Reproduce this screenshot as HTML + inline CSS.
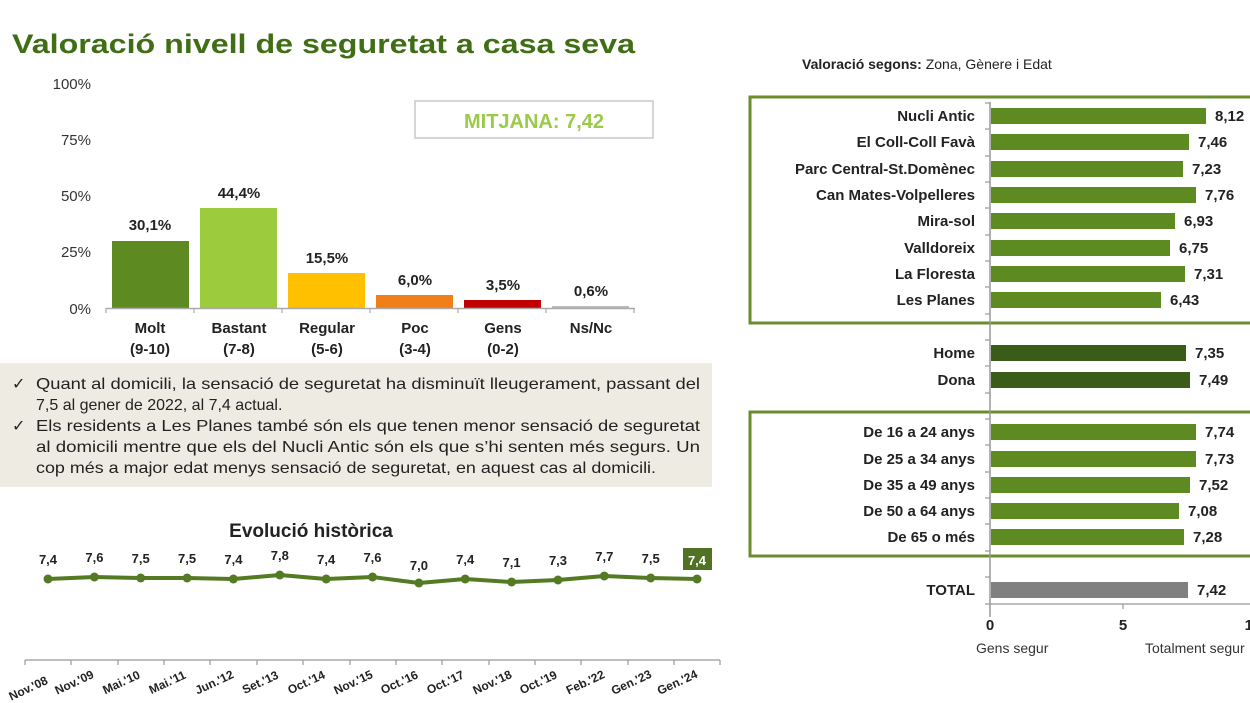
<!DOCTYPE html>
<html><head><meta charset="utf-8">
<style>html,body{margin:0;padding:0;background:#fff;}svg{display:block;}</style></head>
<body>
<svg width="1250" height="703" viewBox="0 0 1250 703" xmlns="http://www.w3.org/2000/svg" font-family="Liberation Sans, Arial, sans-serif">
<rect width="1250" height="703" fill="#fff"/>
<!-- Title -->
<text x="12" y="53" font-size="27" font-weight="bold" fill="#3f6e14" textLength="623" lengthAdjust="spacingAndGlyphs">Valoració nivell de seguretat a casa seva</text>

<!-- Y axis labels -->
<g font-size="15" fill="#333" text-anchor="end">
<text x="91" y="89">100%</text>
<text x="91" y="145">75%</text>
<text x="91" y="201">50%</text>
<text x="91" y="257">25%</text>
<text x="91" y="314">0%</text>
</g>
<!-- MITJANA box -->
<rect x="415" y="101" width="238" height="37" fill="#fff" stroke="#c8c8c8" stroke-width="1.5"/>
<text x="534" y="128" font-size="20" font-weight="bold" fill="#9bc94a" text-anchor="middle">MITJANA: 7,42</text>

<!-- Bars -->
<rect x="112" y="241" width="77" height="67" fill="#5e8a22"/>
<rect x="200" y="208" width="77" height="100" fill="#9ccb3d"/>
<rect x="288" y="273" width="77" height="35" fill="#ffc000"/>
<rect x="376" y="295" width="77" height="13" fill="#f07f1a"/>
<rect x="464" y="300" width="77" height="8" fill="#c00000"/>
<rect x="552" y="306" width="77" height="2" fill="#bbb"/>
<line x1="106" y1="308.5" x2="635" y2="308.5" stroke="#aaa" stroke-width="1.5"/>
<g stroke="#aaa" stroke-width="1.2">
<line x1="106" y1="308" x2="106" y2="313"/><line x1="194" y1="308" x2="194" y2="313"/><line x1="282" y1="308" x2="282" y2="313"/><line x1="370" y1="308" x2="370" y2="313"/><line x1="458" y1="308" x2="458" y2="313"/><line x1="546" y1="308" x2="546" y2="313"/><line x1="634" y1="308" x2="634" y2="313"/>
</g>
<g font-size="15" font-weight="bold" fill="#222" text-anchor="middle">
<text x="150" y="230">30,1%</text>
<text x="239" y="198">44,4%</text>
<text x="327" y="263">15,5%</text>
<text x="415" y="285">6,0%</text>
<text x="503" y="290">3,5%</text>
<text x="591" y="296">0,6%</text>
<text x="150" y="333">Molt</text><text x="150" y="354">(9-10)</text>
<text x="239" y="333">Bastant</text><text x="239" y="354">(7-8)</text>
<text x="327" y="333">Regular</text><text x="327" y="354">(5-6)</text>
<text x="415" y="333">Poc</text><text x="415" y="354">(3-4)</text>
<text x="503" y="333">Gens</text><text x="503" y="354">(0-2)</text>
<text x="591" y="333">Ns/Nc</text>
</g>

<!-- Text box -->
<rect x="0" y="363" width="712" height="124" fill="#edebe2"/>
<g font-size="16" fill="#222">
<text x="12" y="389">✓</text>
<text x="36" y="389" textLength="664" lengthAdjust="spacingAndGlyphs">Quant al domicili, la sensació de seguretat ha disminuït lleugerament, passant del</text>
<text x="36" y="410">7,5 al gener de 2022, al 7,4 actual.</text>
<text x="12" y="431">✓</text>
<text x="36" y="431" textLength="664" lengthAdjust="spacingAndGlyphs">Els residents a Les Planes també són els que tenen menor sensació de seguretat</text>
<text x="36" y="452" textLength="664" lengthAdjust="spacingAndGlyphs">al domicili mentre que els del Nucli Antic són els que s’hi senten més segurs. Un</text>
<text x="36" y="473" textLength="620" lengthAdjust="spacingAndGlyphs">cop més a major edat menys sensació de seguretat, en aquest cas al domicili.</text>
</g>

<!-- Evolution -->
<text x="311" y="537" font-size="19" font-weight="bold" fill="#222" text-anchor="middle">Evolució històrica</text>
<rect x="683" y="548" width="29" height="22" fill="#4f7323"/>
<polyline fill="none" stroke="#557a24" stroke-width="4" stroke-linejoin="round"
 points="48,579 94.4,577 140.7,578 187.1,578 233.4,579 279.8,575 326.2,579 372.5,577 418.9,583 465.2,579 511.6,582 558,580 604.3,576 650.7,578 697,579"/>
<g fill="#557a24">
<circle cx="48" cy="579" r="4.5"/><circle cx="94.4" cy="577" r="4.5"/><circle cx="140.7" cy="578" r="4.5"/><circle cx="187.1" cy="578" r="4.5"/><circle cx="233.4" cy="579" r="4.5"/><circle cx="279.8" cy="575" r="4.5"/><circle cx="326.2" cy="579" r="4.5"/><circle cx="372.5" cy="577" r="4.5"/><circle cx="418.9" cy="583" r="4.5"/><circle cx="465.2" cy="579" r="4.5"/><circle cx="511.6" cy="582" r="4.5"/><circle cx="558" cy="580" r="4.5"/><circle cx="604.3" cy="576" r="4.5"/><circle cx="650.7" cy="578" r="4.5"/><circle cx="697" cy="579" r="4.5"/>
</g>
<g font-size="13" font-weight="bold" fill="#222" text-anchor="middle">
<text x="48" y="564">7,4</text><text x="94.4" y="562">7,6</text><text x="140.7" y="563">7,5</text><text x="187.1" y="563">7,5</text><text x="233.4" y="564">7,4</text><text x="279.8" y="560">7,8</text><text x="326.2" y="564">7,4</text><text x="372.5" y="562">7,6</text><text x="418.9" y="570">7,0</text><text x="465.2" y="564">7,4</text><text x="511.6" y="567">7,1</text><text x="558" y="565">7,3</text><text x="604.3" y="561">7,7</text><text x="650.7" y="563">7,5</text>
<text x="697" y="565" fill="#fff">7,4</text>
</g>
<line x1="25" y1="660" x2="720" y2="660" stroke="#999" stroke-width="1.2"/>
<g stroke="#999" stroke-width="1.2">
<line x1="25" y1="660" x2="25" y2="665"/><line x1="71" y1="660" x2="71" y2="665"/><line x1="118" y1="660" x2="118" y2="665"/><line x1="164" y1="660" x2="164" y2="665"/><line x1="210" y1="660" x2="210" y2="665"/><line x1="257" y1="660" x2="257" y2="665"/><line x1="303" y1="660" x2="303" y2="665"/><line x1="350" y1="660" x2="350" y2="665"/><line x1="396" y1="660" x2="396" y2="665"/><line x1="442" y1="660" x2="442" y2="665"/><line x1="489" y1="660" x2="489" y2="665"/><line x1="535" y1="660" x2="535" y2="665"/><line x1="581" y1="660" x2="581" y2="665"/><line x1="628" y1="660" x2="628" y2="665"/><line x1="674" y1="660" x2="674" y2="665"/><line x1="720" y1="660" x2="720" y2="665"/>
</g>
<g font-size="12" font-weight="bold" fill="#222" text-anchor="middle">
<text transform="translate(30,692) rotate(-25)">Nov.'08</text>
<text transform="translate(76,686) rotate(-25)">Nov.'09</text>
<text transform="translate(123,686) rotate(-25)">Mai.'10</text>
<text transform="translate(169,686) rotate(-25)">Mai.'11</text>
<text transform="translate(216,686) rotate(-25)">Jun.'12</text>
<text transform="translate(262,686) rotate(-25)">Set.'13</text>
<text transform="translate(308,686) rotate(-25)">Oct.'14</text>
<text transform="translate(355,686) rotate(-25)">Nov.'15</text>
<text transform="translate(401,686) rotate(-25)">Oct.'16</text>
<text transform="translate(447,686) rotate(-25)">Oct.'17</text>
<text transform="translate(494,686) rotate(-25)">Nov.'18</text>
<text transform="translate(540,686) rotate(-25)">Oct.'19</text>
<text transform="translate(587,686) rotate(-25)">Feb.'22</text>
<text transform="translate(633,686) rotate(-25)">Gen.'23</text>
<text transform="translate(679,686) rotate(-25)">Gen.'24</text>
</g>

<!-- Right chart -->
<text x="802" y="69" font-size="14" fill="#222"><tspan font-weight="bold">Valoració segons:</tspan> Zona, Gènere i Edat</text>
<rect x="750" y="97" width="510" height="226" fill="none" stroke="#6b8e2d" stroke-width="3"/>
<rect x="750" y="412" width="510" height="144" fill="none" stroke="#6b8e2d" stroke-width="3"/>
<line x1="990" y1="102" x2="990" y2="617" stroke="#999" stroke-width="1.5"/>
<g stroke="#999" stroke-width="1.2">
<line x1="985" y1="103" x2="990" y2="103"/><line x1="985" y1="129" x2="990" y2="129"/><line x1="985" y1="156" x2="990" y2="156"/><line x1="985" y1="182" x2="990" y2="182"/><line x1="985" y1="208" x2="990" y2="208"/><line x1="985" y1="235" x2="990" y2="235"/><line x1="985" y1="261" x2="990" y2="261"/><line x1="985" y1="287" x2="990" y2="287"/><line x1="985" y1="314" x2="990" y2="314"/><line x1="985" y1="340" x2="990" y2="340"/><line x1="985" y1="366" x2="990" y2="366"/><line x1="985" y1="393" x2="990" y2="393"/><line x1="985" y1="419" x2="990" y2="419"/><line x1="985" y1="445" x2="990" y2="445"/><line x1="985" y1="472" x2="990" y2="472"/><line x1="985" y1="498" x2="990" y2="498"/><line x1="985" y1="524" x2="990" y2="524"/><line x1="985" y1="551" x2="990" y2="551"/><line x1="985" y1="577" x2="990" y2="577"/><line x1="985" y1="604" x2="990" y2="604"/>
<line x1="990" y1="604" x2="1250" y2="604"/><line x1="1123" y1="604" x2="1123" y2="609"/>
</g>
<g fill="#5e8a22">
<rect x="991" y="108" width="215" height="16"/>
<rect x="991" y="134" width="198" height="16"/>
<rect x="991" y="161" width="192" height="16"/>
<rect x="991" y="187" width="205" height="16"/>
<rect x="991" y="213" width="184" height="16"/>
<rect x="991" y="240" width="179" height="16"/>
<rect x="991" y="266" width="194" height="16"/>
<rect x="991" y="292" width="170" height="16"/>
<rect x="991" y="424" width="205" height="16"/>
<rect x="991" y="451" width="205" height="16"/>
<rect x="991" y="477" width="199" height="16"/>
<rect x="991" y="503" width="188" height="16"/>
<rect x="991" y="529" width="193" height="16"/>
</g>
<rect x="991" y="345" width="195" height="16" fill="#3a5c18"/>
<rect x="991" y="372" width="199" height="16" fill="#3a5c18"/>
<rect x="991" y="582" width="197" height="16" fill="#808080"/>
<g font-size="15" font-weight="bold" fill="#222" text-anchor="end">
<text x="975" y="121">Nucli Antic</text>
<text x="975" y="147">El Coll-Coll Favà</text>
<text x="975" y="174">Parc Central-St.Domènec</text>
<text x="975" y="200">Can Mates-Volpelleres</text>
<text x="975" y="226">Mira-sol</text>
<text x="975" y="253">Valldoreix</text>
<text x="975" y="279">La Floresta</text>
<text x="975" y="305">Les Planes</text>
<text x="975" y="358">Home</text>
<text x="975" y="385">Dona</text>
<text x="975" y="437">De 16 a 24 anys</text>
<text x="975" y="464">De 25 a 34 anys</text>
<text x="975" y="490">De 35 a 49 anys</text>
<text x="975" y="516">De 50 a 64 anys</text>
<text x="975" y="542">De 65 o més</text>
<text x="975" y="595">TOTAL</text>
</g>
<g font-size="15" font-weight="bold" fill="#222">
<text x="1215" y="121">8,12</text>
<text x="1198" y="147">7,46</text>
<text x="1192" y="174">7,23</text>
<text x="1205" y="200">7,76</text>
<text x="1184" y="226">6,93</text>
<text x="1179" y="253">6,75</text>
<text x="1194" y="279">7,31</text>
<text x="1170" y="305">6,43</text>
<text x="1195" y="358">7,35</text>
<text x="1199" y="385">7,49</text>
<text x="1205" y="437">7,74</text>
<text x="1205" y="464">7,73</text>
<text x="1199" y="490">7,52</text>
<text x="1188" y="516">7,08</text>
<text x="1193" y="542">7,28</text>
<text x="1197" y="595">7,42</text>
<text x="990" y="630" text-anchor="middle">0</text>
<text x="1123" y="630" text-anchor="middle">5</text>
<text x="1253" y="630" text-anchor="middle">10</text>
</g>
<g font-size="14" fill="#333">
<text x="976" y="653">Gens segur</text>
<text x="1145" y="653">Totalment segur</text>
</g>
</svg>
</body></html>
